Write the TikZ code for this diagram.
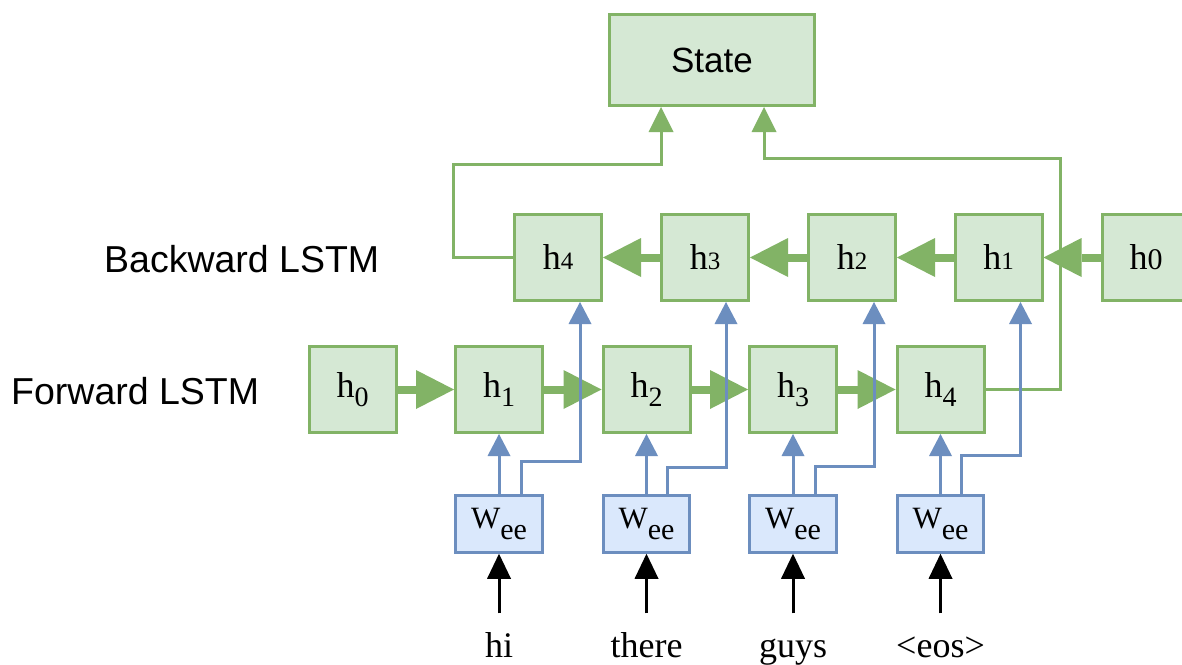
\documentclass[tikz,border=0pt]{standalone}
\usepackage{fontspec}
\setmainfont{Liberation Serif}
\newfontfamily\labelsans{Liberation Sans}
\usetikzlibrary{arrows.meta}
\definecolor{gfill}{HTML}{D5E8D4}
\definecolor{gline}{HTML}{82B366}
\definecolor{bfill}{HTML}{DAE8FC}
\definecolor{bline}{HTML}{6C8EBF}

\newcommand\fsz[1]{\fontsize{#1}{#1}\selectfont}
% forward states: lowered subscript
\newcommand\hlow[1]{h\raisebox{-9pt}{\fsz{28}#1}}
% backward states: small digit on the baseline
\newcommand\hflat[1]{h{\fsz{25}#1}}
\newcommand\wee{W\raisebox{-11pt}{\fsz{30}ee}}

\begin{document}
\begin{tikzpicture}[x=1pt,y=-1pt,
  cell/.style={draw=gline,fill=gfill,line width=3pt,minimum width=87pt,
    minimum height=86pt,inner sep=0pt,font=\fsz{36}},
  embed/.style={draw=bline,fill=bfill,line width=3pt,minimum width=86.5pt,
    minimum height=56.5pt,inner sep=0pt,font=\fsz{31}},
  word/.style={inner sep=0pt,anchor=base,font=\fsz{36}},
  rowlabel/.style={inner sep=0pt,anchor=west,font=\labelsans\fsz{37.5}},
  fat/.style={draw=gline,line width=8pt,
    -{Triangle[length=38pt,width=39pt,line width=0pt]}},
  gthin/.style={draw=gline,line width=3pt,
    -{Triangle[length=25pt,width=25pt,line width=0pt]}},
  bthin/.style={draw=bline,line width=3pt,
    -{Triangle[length=22pt,width=23pt,line width=0pt]}},
  kthin/.style={draw=black,line width=3pt,
    -{Triangle[length=25pt,width=24pt,line width=0pt]}}]

\useasboundingbox[fill=white] (0,0) rectangle (1182,664);
\clip (0,0) rectangle (1182,664);

% output state
\node[cell,minimum width=205pt,minimum height=91pt,font=\labelsans\fsz{35}]
  (state) at (712,60) {State};

% row labels
\node[rowlabel] (lblb) at (104,259) {Backward LSTM};
\node[rowlabel] (lblf) at (11,391) {Forward LSTM};

% backward LSTM cells
\node[cell] (b4) at (558,257.5) {\hflat{4}};
\node[cell] (b3) at (705,257.5) {\hflat{3}};
\node[cell] (b2) at (852,257.5) {\hflat{2}};
\node[cell] (b1) at (998.5,257.5) {\hflat{1}};
\node[cell] (b0) at (1146,257.5) {h{\fsz{30}0}};

% forward LSTM cells
\node[cell] (f0) at (352.5,389.5) {\hlow{0}};
\node[cell] (f1) at (499,389.5) {\hlow{1}};
\node[cell] (f2) at (646.5,389.5) {\hlow{2}};
\node[cell] (f3) at (793,389.5) {\hlow{3}};
\node[cell] (f4) at (940.5,389.5) {\hlow{4}};

% embeddings
\node[embed] (w1) at (499,524) {\wee};
\node[embed] (w2) at (646.5,524) {\wee};
\node[embed] (w3) at (793,524) {\wee};
\node[embed] (w4) at (940.5,524) {\wee};

% input tokens
\node[word] (t1) at (499,657) {hi};
\node[word] (t2) at (646.5,657) {there};
\node[word] (t3) at (793,657) {guys};
\node[word] (t4) at (940.5,657) {<eos>};

% recurrent links
\draw[fat] (f0) -- (f1);
\draw[fat] (f1) -- (f2);
\draw[fat] (f2) -- (f3);
\draw[fat] (f3) -- (f4);
\draw[fat] (b0) -- (b1);
\draw[fat] (b1) -- (b2);
\draw[fat] (b2) -- (b3);
\draw[fat] (b3) -- (b4);

% final states into the output
\coordinate (lj) at (453,164);
\coordinate (rj) at (1060,158);
\draw[gthin] (b4.west) -| (lj) -| ([xshift=-51pt]state.south);
\draw[gthin] (f4.east) -| (rj) -| ([xshift=52pt]state.south);

% tokens into embeddings
\foreach \i in {1,...,4} {
  \coordinate (s\i) at ([yshift=-59.5pt]w\i.south);
  \draw[kthin] (s\i) -- (w\i);
}

% embeddings into both directions
\draw[bthin] (w1) -- (f1);
\draw[bthin] (w2) -- (f2);
\draw[bthin] (w3) -- (f3);
\draw[bthin] (w4) -- (f4);
\draw[bthin] ([xshift=22pt]w1.north) -- ++(0,-33) -| ([xshift=22pt]b4.south);
\draw[bthin] ([xshift=21pt]w2.north) -- ++(0,-27) -| ([xshift=21pt]b3.south);
\draw[bthin] ([xshift=22pt]w3.north) -- ++(0,-28) -| ([xshift=22pt]b2.south);
\draw[bthin] ([xshift=21pt]w4.north) -- ++(0,-39) -| ([xshift=22pt]b1.south);
\end{tikzpicture}
\end{document}
